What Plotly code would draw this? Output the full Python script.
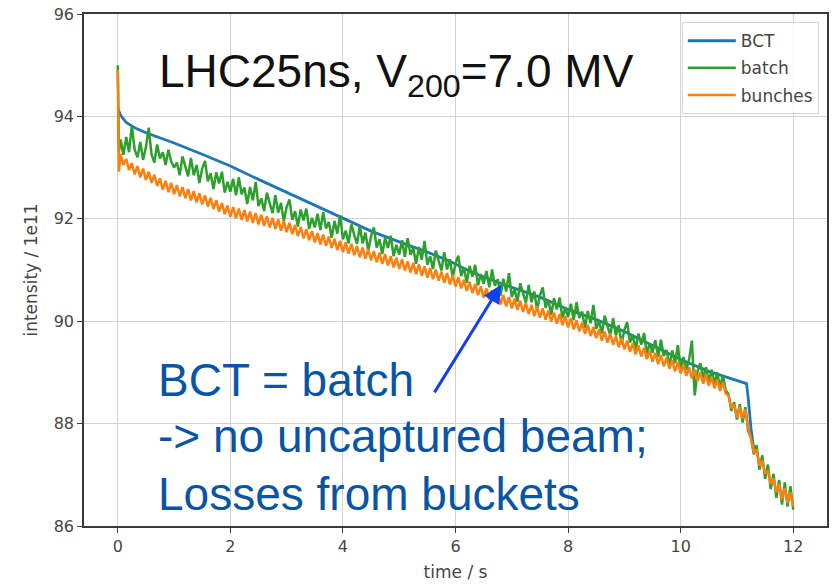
import plotly.graph_objects as go

# ---------------- data ----------------
bct_t = [0.0, 0.05, 0.15, 0.3, 0.5, 0.8, 1.0, 1.5, 2.0, 2.5, 3.0, 3.5, 4.0, 4.5, 5.0,
         5.5, 5.9, 6.3, 6.8, 7.5, 8.0, 8.5, 9.0, 9.5, 10.0, 10.5, 10.9, 11.1, 11.17,
         11.2, 11.25, 11.3]
bct_v = [94.16, 94.02, 93.88, 93.78, 93.68, 93.56, 93.48, 93.26, 93.03, 92.77, 92.52,
         92.26, 92.02, 91.76, 91.55, 91.35, 91.17, 90.95, 90.74, 90.47, 90.23, 90.03,
         89.80, 89.52, 89.25, 89.02, 88.88, 88.82, 88.78, 88.50, 87.90, 87.50]

# batch / bunches: t=0, t=0.02, then every 0.05 s from 0.05 to 12.0 (10 values per row = 0.5 s)
batch_v = [95.00, 93.30,
           93.55, 93.25, 93.60, 93.30, 93.82, 93.35, 93.20, 93.50, 93.15, 93.40,
           93.78, 93.25, 93.10, 93.45, 93.18, 93.30, 93.05, 93.35, 93.12, 93.00,
           93.10, 92.85, 93.22, 93.02, 92.83, 93.19, 92.85, 93.05, 92.70, 92.98,
           93.13, 92.73, 92.89, 92.58, 92.91, 92.69, 92.92, 92.51, 92.72, 92.53,
           92.78, 92.46, 92.81, 92.48, 92.61, 92.29, 92.62, 92.36, 92.72, 92.25,
           92.40, 92.15, 92.51, 92.30, 92.11, 92.46, 92.12, 92.31, 91.95, 92.23,
           92.38, 91.98, 92.15, 91.85, 92.18, 91.97, 92.20, 91.80, 92.02, 91.83,
           92.10, 91.78, 92.13, 91.81, 91.94, 91.63, 91.96, 91.71, 92.07, 91.60,
           91.77, 91.52, 91.89, 91.69, 91.51, 91.86, 91.52, 91.73, 91.37, 91.66,
           91.83, 91.44, 91.60, 91.31, 91.64, 91.43, 91.67, 91.27, 91.49, 91.30,
           91.58, 91.26, 91.62, 91.30, 91.43, 91.12, 91.45, 91.20, 91.57, 91.10,
           91.27, 91.02, 91.38, 91.18, 90.99, 91.35, 91.01, 91.21, 90.85, 91.13,
           91.28, 90.88, 91.05, 90.75, 91.08, 90.87, 91.10, 90.70, 90.92, 90.73,
           90.98, 90.66, 91.01, 90.69, 90.82, 90.50, 90.83, 90.58, 90.94, 90.47,
           90.63, 90.38, 90.74, 90.55, 90.36, 90.71, 90.37, 90.58, 90.22, 90.50,
           90.66, 90.26, 90.42, 90.12, 90.45, 90.23, 90.46, 90.06, 90.27, 90.08,
           90.34, 90.02, 90.37, 90.06, 90.19, 89.87, 90.20, 89.96, 90.32, 89.85,
           90.01, 89.76, 90.11, 89.91, 89.72, 90.06, 89.72, 89.92, 89.55, 89.83,
           89.98, 89.58, 89.74, 89.43, 89.76, 89.54, 89.77, 89.36, 89.57, 89.38,
           89.63, 89.30, 89.64, 89.32, 89.44, 89.11, 89.43, 89.18, 89.53, 89.05,
           89.30, 89.05, 89.25, 89.62, 88.55, 89.02, 89.18, 88.88, 89.10, 88.82,
           89.05, 88.78, 89.00, 88.70, 88.95, 88.65, 88.58, 88.25, 88.42, 88.08,
           88.38, 88.02, 88.32, 87.85, 87.72, 87.40, 87.58, 87.10, 87.38, 86.92,
           87.20, 86.72, 87.02, 86.55, 86.90, 86.42, 86.85, 86.38, 86.78, 86.32]

bunches_v = [94.90, 92.92,
             93.27, 93.05, 93.17, 92.95, 93.09, 92.87, 93.03, 92.81, 92.98, 92.76,
             92.92, 92.70, 92.86, 92.64, 92.79, 92.57, 92.74, 92.52, 92.70, 92.48,
             92.66, 92.44, 92.62, 92.40, 92.58, 92.36, 92.54, 92.32, 92.50, 92.28,
             92.46, 92.24, 92.41, 92.19, 92.36, 92.14, 92.31, 92.09, 92.26, 92.04,
             92.23, 92.01, 92.20, 91.98, 92.17, 91.95, 92.14, 91.92, 92.11, 91.89,
             92.08, 91.86, 92.05, 91.83, 92.02, 91.80, 91.99, 91.77, 91.96, 91.74,
             91.92, 91.70, 91.88, 91.66, 91.84, 91.62, 91.80, 91.58, 91.76, 91.54,
             91.72, 91.50, 91.69, 91.47, 91.65, 91.43, 91.61, 91.39, 91.57, 91.35,
             91.54, 91.32, 91.51, 91.29, 91.47, 91.25, 91.44, 91.22, 91.41, 91.19,
             91.37, 91.15, 91.34, 91.12, 91.31, 91.09, 91.27, 91.05, 91.24, 91.02,
             91.21, 90.99, 91.17, 90.95, 91.14, 90.92, 91.11, 90.89, 91.07, 90.85,
             91.04, 90.82, 91.01, 90.79, 90.97, 90.75, 90.94, 90.72, 90.90, 90.68,
             90.86, 90.64, 90.81, 90.59, 90.77, 90.55, 90.73, 90.51, 90.68, 90.46,
             90.64, 90.42, 90.60, 90.38, 90.55, 90.33, 90.51, 90.29, 90.47, 90.25,
             90.44, 90.22, 90.40, 90.18, 90.36, 90.14, 90.32, 90.10, 90.29, 90.07,
             90.25, 90.03, 90.21, 89.99, 90.17, 89.95, 90.14, 89.92, 90.10, 89.88,
             90.06, 89.84, 90.02, 89.80, 89.97, 89.75, 89.93, 89.71, 89.89, 89.67,
             89.84, 89.62, 89.80, 89.58, 89.76, 89.54, 89.71, 89.49, 89.67, 89.45,
             89.62, 89.40, 89.57, 89.35, 89.53, 89.31, 89.48, 89.26, 89.43, 89.21,
             89.38, 89.16, 89.34, 89.12, 89.29, 89.07, 89.24, 89.02, 89.20, 88.98,
             89.15, 88.93, 89.10, 88.88, 89.05, 88.83, 89.00, 88.78, 88.96, 88.74,
             88.91, 88.69, 88.86, 88.64, 88.81, 88.59, 88.55, 88.30, 88.38, 88.12,
             88.33, 88.10, 88.28, 87.92, 87.70, 87.46, 87.48, 87.18, 87.28, 87.02,
             87.08, 86.82, 86.93, 86.66, 86.82, 86.52, 86.74, 86.45, 86.66, 86.38]

x_ticks = [0, 2, 4, 6, 8, 10, 12]
y_ticks = [86, 88, 90, 92, 94, 96]


def sample_times(n):
    # measurement samples: t=0, t=0.02, then 0.05 s spacing
    return [0.0, 0.02] + [round(0.05 * k, 3) for k in range(1, n - 1)]


batch_t = sample_times(len(batch_v))
bunches_t = sample_times(len(bunches_v))

BLUE = "#1f77b4"
GREEN = "#2ca02c"
ORANGE = "#ff7f0e"

fig = go.Figure()
fig.add_trace(go.Scatter(x=bct_t, y=bct_v, mode="lines", name="BCT", legendgroup="a",
                         line=dict(color=BLUE, width=2.8)))
fig.add_trace(go.Scatter(x=batch_t, y=batch_v, mode="lines", name="batch", legendgroup="b",
                         line=dict(color=GREEN, width=2.5)))
fig.add_trace(go.Scatter(x=bunches_t, y=bunches_v, mode="lines", name="bunches",
                         legendgroup="c", line=dict(color=ORANGE, width=2.5)))

TXT = "#454545"
tick_font = dict(family="DejaVu Sans", size=16, color=TXT)
axis_common = dict(showline=True, linecolor="#3a3a3a", linewidth=1.6, mirror=True,
                   ticks="outside", ticklen=5, tickwidth=1.4, tickcolor="#3a3a3a",
                   showgrid=True, gridcolor="#d2d2d2", gridwidth=1.4,
                   zeroline=False, tickfont=tick_font)

fig.update_layout(
    width=832, height=585,
    margin=dict(l=84, r=3, t=14, b=59),
    paper_bgcolor="white", plot_bgcolor="white",
    showlegend=True,
    legend=dict(x=0.989, y=0.984, xanchor="right", yanchor="top",
                bgcolor="rgba(255,255,255,0.85)", bordercolor="#d5d5d5", borderwidth=1,
                font=dict(family="DejaVu Sans", size=17, color=TXT),
                itemwidth=48, tracegroupgap=2),
    xaxis=dict(range=[-0.6, 12.6], tickvals=x_ticks,
               title=dict(text="time / s", standoff=11,
                          font=dict(family="DejaVu Sans", size=17, color=TXT)),
               **axis_common),
    yaxis=dict(range=[86, 96], tickvals=y_ticks,
               title=dict(text="intensity / 1e11", standoff=12,
                          font=dict(family="DejaVu Sans", size=17, color=TXT)),
               **axis_common),
)

TXT_BLUE = "#0a55a3"
fig.add_annotation(xref="paper", yref="paper", x=0.098, y=0.882, xanchor="left",
                   yanchor="middle", showarrow=False,
                   text="LHC25ns, V<sub>200</sub>=7.0 MV",
                   font=dict(family="Liberation Sans", size=46, color="#111111"))
for txt, yy in [("BCT = batch", 0.286), ("-> no uncaptured beam;", 0.175),
                ("Losses from buckets", 0.062)]:
    fig.add_annotation(xref="paper", yref="paper", x=0.097, y=yy, xanchor="left",
                       yanchor="middle", showarrow=False, text=txt,
                       font=dict(family="Liberation Sans", size=46, color=TXT_BLUE))

# arrow from annotation text to curve
fig.add_annotation(x=6.81, y=90.71, ax=5.61, ay=88.58, xref="x", yref="y",
                   axref="x", ayref="y", text="", showarrow=True,
                   arrowhead=2, arrowsize=1.2, arrowwidth=3, arrowcolor="#1040f0")

fig.write_html("out.html")
